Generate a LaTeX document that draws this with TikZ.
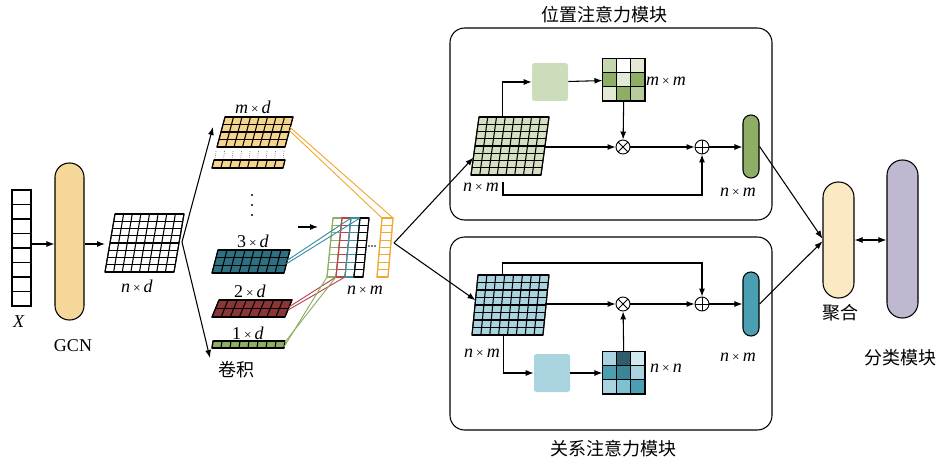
\documentclass[tikz,border=0pt]{standalone}
\usepackage{fontspec}
\setmainfont{Liberation Serif}
\newfontfamily\cjk{Noto Sans CJK SC}
\usetikzlibrary{arrows.meta,calc}

\definecolor{gcnyellow}{HTML}{F5D799}
\definecolor{convyellow}{HTML}{F7D48C}
\definecolor{lineyellow}{HTML}{F0A92E}
\definecolor{tealdark}{HTML}{2E6F80}
\definecolor{tealline}{HTML}{3A8EA3}
\definecolor{reddark}{HTML}{8B3636}
\definecolor{redline}{HTML}{B5474B}
\definecolor{greenmid}{HTML}{8EAD65}
\definecolor{palegreen}{HTML}{D5E0C3}
\definecolor{boxgreen}{HTML}{CCDDBB}
\definecolor{paleblue}{HTML}{A9D3DF}
\definecolor{pillteal}{HTML}{4A9FB3}
\definecolor{aggcream}{HTML}{FAE9C3}
\definecolor{clslilac}{HTML}{C0B7D1}
\definecolor{mg1}{HTML}{E2EAD6}
\definecolor{mg2}{HTML}{C5D6AE}
\definecolor{mg3}{HTML}{B7CB9D}
\definecolor{mb1}{HTML}{D2E9F0}
\definecolor{mb2}{HTML}{2F5D6C}
\definecolor{mb3}{HTML}{3A8597}
\definecolor{mb4}{HTML}{7EC1D0}

\newcommand{\slantgrid}[5]{%
  % #1 = node whose box holds the grid
  % #2 = fill and line style
  % #3 = slant, top edge shifted right
  % #4 = columns, #5 = rows
  \coordinate (#1-a) at ($(#1.north west)+(#3,0)$);
  \coordinate (#1-b) at (#1.north east);
  \coordinate (#1-c) at ($(#1.south east)-(#3,0)$);
  \coordinate (#1-d) at (#1.south west);
  \path[#2] (#1-a) -- (#1-b) -- (#1-c) -- (#1-d) -- cycle;
  \foreach \i in {0,...,#4} \draw[#2] ($(#1-a)!\i/#4!(#1-b)$) -- ($(#1-d)!\i/#4!(#1-c)$);
  \foreach \j in {0,...,#5} \draw[#2] ($(#1-a)!\j/#5!(#1-d)$) -- ($(#1-b)!\j/#5!(#1-c)$);
}
\newcommand{\bydim}[2]{\textit{#1}\,{\fontsize{10}{10}\selectfont ×}\,\textit{#2}}

\begin{document}
\begin{tikzpicture}[x=0.75pt, y=-0.75pt, font=\fontsize{13.5}{15}\selectfont,
	gridbox/.style 2 args={inner sep=0pt, outer sep=0pt, minimum width=#1*0.75pt, minimum height=#2*0.75pt, anchor=north west},
	pill/.style 2 args={draw, line width=0.8pt, inner sep=0pt, minimum width=#1*0.75pt, minimum height=#2*0.75pt, rounded corners=#1*0.37pt},
	module/.style={draw, line width=0.8pt, rounded corners=11pt},
	cells/.style={fill=#1, draw=black, line width=0.8pt},
	hollow/.style={fill=white, draw=#1, line width=0.8pt},
	proj/.style={draw=#1, line width=0.7pt},
	sqbox/.style={fill=#1, rounded corners=2pt, inner sep=0pt, minimum width=27pt, minimum height=28.5pt},
	mat/.style={draw, line width=0.8pt, inner sep=0pt, minimum size=31.5pt},
	op/.style={circle, draw, line width=0.7pt, inner sep=0pt, minimum size=10.5pt},
	otimes/.style={op, path picture={\draw[line width=0.7pt] (path picture bounding box.north west) -- (path picture bounding box.south east) (path picture bounding box.south west) -- (path picture bounding box.north east);}},
	oplus/.style={op, path picture={\draw[line width=0.7pt] (path picture bounding box.north) -- (path picture bounding box.south) (path picture bounding box.west) -- (path picture bounding box.east);}},
	arr/.style={line width=0.8pt, -{Latex[length=6pt, width=4.5pt]}},
	line/.style={line width=0.8pt}]
	\useasboundingbox (0,0) rectangle (939,463);

	% input and GCN
	\node[gridbox={19}{116}] (xvec) at (12,190) {};
	\slantgrid{xvec}{cells=white}{0}{1}{8}
	\node (xlab) at (19,322) {\textit{X}};
	\node[pill={29}{157}, fill=gcnyellow] (gcn) at (69.5,241.5) {};
	\node (gcnlab) at (73,346) {GCN};
	\node[gridbox={79}{58}] (nd) at (105,214) {};
	\slantgrid{nd}{cells=white}{10}{8}{8}
	\node (ndlab) at (137,286) {\bydim{n}{d}};
	\draw[arr] (xvec.east |- 0,244) -- (gcn.west |- 0,244);
	\draw[arr] (gcn.east |- 0,244) -- (nd.west |- 0,244);

	% convolution
	\coordinate (fork) at (182,242);
	\coordinate (convtop) at (213,127);
	\coordinate (convbot) at (210,358);
	\draw[arr] (fork) -- (convtop);
	\draw[arr] (fork) -- (convbot);
	\node (convlab) at (236,370) {\cjk 卷积};

	\node[gridbox={76}{30}] (md) at (217,117) {};
	\slantgrid{md}{cells=convyellow}{8}{8}{4}
	\node (mdlab) at (253,107) {\bydim{m}{d}};
	\foreach \i in {0,...,8}
		\draw[densely dotted, gray, line width=0.6pt] ($(md-d)!\i/8!(md-c)+(-1,4)$) -- ++(-1,9);
	\node[gridbox={73}{8}] (od) at (212,160) {};
	\slantgrid{od}{cells=convyellow}{2}{8}{1}
	\foreach \y in {195,205,215}
		\fill (252,\y) circle (0.8pt);
	\node[gridbox={78}{23}] (td) at (212,250) {};
	\slantgrid{td}{cells=tealdark}{6}{8}{3}
	\node (tdlab) at (253,241) {3\,{\fontsize{10}{10}\selectfont ×}\,\textit{d}};
	\node[gridbox={80}{17}] (rd) at (212,300) {};
	\slantgrid{rd}{cells=reddark}{7}{8}{2}
	\node (rdlab) at (250,291) {2\,{\fontsize{10}{10}\selectfont ×}\,\textit{d}};
	\node[gridbox={73}{7}] (gd) at (212,341) {};
	\slantgrid{gd}{cells=greenmid}{1}{8}{1}
	\node (gdlab) at (248,333) {1\,{\fontsize{10}{10}\selectfont ×}\,\textit{d}};

	% n x m feature map
	\foreach \k/\c in {0/greenmid,1/redline,2/tealline,3/black} {
		\node[gridbox={15}{59}] (col\k) at ({327+9*\k},218) {};
		\slantgrid{col\k}{hollow=\c}{6}{1}{8}
	}
	\node[gridbox={16}{59}] (ycol) at (377,218) {};
	\slantgrid{ycol}{hollow=lineyellow}{5}{1}{8}
	\foreach \x in {369,372,375}
		\fill (\x,246) circle (0.6pt);
	\node (nmlab) at (365,290) {\bydim{n}{m}};
	\coordinate (nmin) at (298,227);
	\draw[arr] (nmin) -- ++(20,0);

	\draw[proj=lineyellow] ($(md-b)!0.45!(md-c)$) -- (ycol-a);
	\draw[proj=lineyellow] ($(md-b)!0.35!(md-c)$) -- (ycol-b);
	\draw[proj=tealline] ($(td-b)!0.45!(td-c)$) -- (col2-a);
	\draw[proj=tealline] ($(td-b)!0.6!(td-c)$) -- (col2-b);
	\draw[proj=redline] ($(rd-b)!0.4!(rd-c)$) -- (col1-d);
	\draw[proj=redline] ($(rd-b)!0.6!(rd-c)$) -- (col1-c);
	\draw[proj=greenmid] ($(gd-b)!0.2!(gd-c)$) -- (col0-c);
	\draw[proj=greenmid] ($(gd-b)!0.8!(gd-c)$) -- (col0-d);

	% position attention module
	\node[module, gridbox={322}{192}] (pamod) at (450,28) {};
	\node (patitle) at (604,15) {\cjk 位置注意力模块};
	\node[gridbox={78}{58}] (pa) at (471,117) {};
	\slantgrid{pa}{cells=palegreen}{8}{8}{8}
	\node (palab) at (481,187) {\bydim{n}{m}};
	\node[sqbox=boxgreen] (pabox) at (550,82) {};
	\node[mat] (pamat) at (624,80) {};
	\foreach \c [count=\k from 0] in {mg2,white,mg1,greenmid,mg1,greenmid,mg1,greenmid,mg3}
		\filldraw[cells=\c] ($(pamat.north west)+({14*mod(\k,3)},{14*int(\k/3)})$) rectangle ++(14,14);
	\node (pamatlab) at (666,81) {\bydim{m}{m}};
	\node[otimes] (patimes) at (623,147) {};
	\node[oplus] (paplus) at (702,147) {};
	\node[pill={16}{63}, fill=greenmid] (papill) at (751,146.5) {};
	\node (papilllab) at (738,192) {\bydim{n}{m}};
	\coordinate (paskip) at (503,182);
	\draw[arr] ($(pa-a)!0.33!(pa-b)$) |- (pabox.west);
	\draw[arr] (pabox) -- (pamat);
	\draw[arr] (pamat) -- (patimes);
	\draw[arr] ([xshift=-3pt]patimes.west -| pa.east) -- (patimes.west);
	\draw[arr] (patimes.east) -- (paplus.west);
	\draw[arr] (paplus.east) -- (paplus -| papill.west);
	\draw[arr] (paskip) -- ++(0,13) -| (paplus.south);

	% relation attention module
	\node[module, gridbox={322}{193}] (ramod) at (450,237) {};
	\node (ratitle) at (613,449) {\cjk 关系注意力模块};
	\node[gridbox={77}{60}] (ra) at (472,275) {};
	\slantgrid{ra}{cells=paleblue}{6}{8}{8}
	\node (ralab) at (482,353) {\bydim{n}{m}};
	\node[sqbox=paleblue] (rabox) at (552,373) {};
	\node[mat] (ramat) at (624,373) {};
	\foreach \c [count=\k from 0] in {paleblue,mb2,mb1,pillteal,mb3,paleblue,paleblue,mb4,pillteal}
		\filldraw[cells=\c] ($(ramat.north west)+({14*mod(\k,3)},{14*int(\k/3)})$) rectangle ++(14,14);
	\node (ramatlab) at (666,368) {\bydim{n}{n}};
	\node[otimes] (ratimes) at (623,304) {};
	\node[oplus] (raplus) at (702,304) {};
	\node[pill={16}{64}, fill=pillteal] (rapill) at (751,304) {};
	\node (rapilllab) at (738,357) {\bydim{n}{m}};
	\draw[arr] ($(ra-a)!0.35!(ra-b)$) -- ++(0,-12) -| (raplus.north);
	\draw[arr] ([xshift=-3pt]ratimes.west -| ra.east) -- (ratimes.west);
	\draw[arr] (ratimes.east) -- (raplus.west);
	\draw[arr] (raplus.east) -- (raplus -| rapill.west);
	\draw[arr] ($(ra-d)!0.44!(ra-c)$) |- (rabox.west);
	\draw[arr] (rabox) -- (ramat);
	\draw[arr] (ramat) -- (ratimes);

	% split into the two modules
	\coordinate (split) at (394,243);
	\draw[arr] (split) -- ($(pa-a)!0.7!(pa-d)$);
	\draw[arr] (split) -- ($(ra-a)!0.42!(ra-d)$);

	% aggregation and classifier
	\node[pill={31}{116}, fill=aggcream] (agg) at (838.5,240) {};
	\node (agglab) at (840,313) {\cjk 聚合};
	\node[pill={31}{158}, fill=clslilac] (cls) at (902.5,239) {};
	\node (clslab) at (900,358) {\cjk 分类模块};
	\draw[arr] (papill.east) -- ([yshift=1pt]agg.west);
	\draw[arr] (rapill.east) -- ([yshift=-1pt]agg.west);
	\draw[arr, {Latex[length=6pt, width=4.5pt]}-{Latex[length=6pt, width=4.5pt]}] (agg.east) -- (agg.east -| cls.west);
\end{tikzpicture}
\end{document}
